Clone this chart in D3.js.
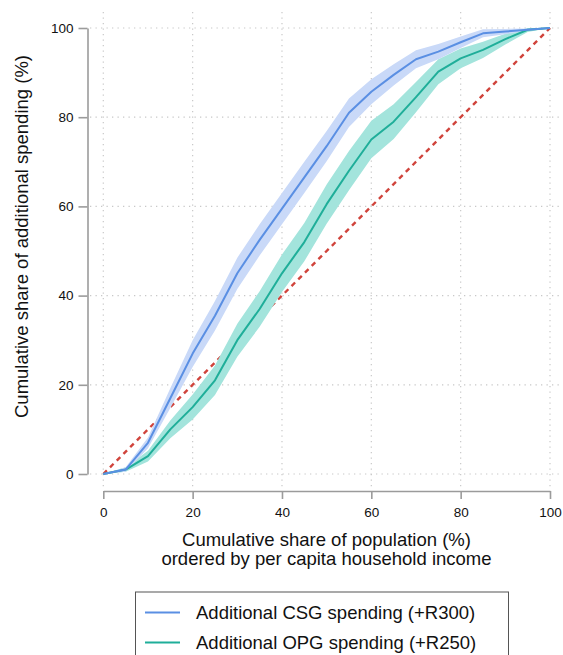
<!DOCTYPE html>
<html>
<head>
<meta charset="utf-8">
<script src="https://cdn.jsdelivr.net/npm/d3@7"></script>
<style>
  html, body { margin: 0; padding: 0; background: #fff; }
  svg { display: block; font-family: "Liberation Sans", Arial, Helvetica, sans-serif; }
</style>
</head>
<body>
<svg id="chart" width="563" height="655"></svg>
<script>
// Cumulative population share (%) ordered by per capita household income
const popShare = [0, 5, 10, 15, 20, 25, 30, 35, 40, 45, 50, 55, 60, 65, 70, 75, 80, 85, 90, 95, 100];

// Concentration curve: additional CSG spending (+R300)
const csgShare = [0, 1, 7, 17, 27, 35.5, 45, 52.5, 59.5, 66.5, 73.5, 81, 85.7, 89.5, 93, 94.7, 96.8, 98.8, 99.2, 99.6, 100];
const csgLower = [0, 0.5, 5.8, 14.8, 24, 32.2, 41.5, 49, 56, 63, 70.1, 77.8, 82.9, 87.1, 91, 93, 95.5, 97.9, 98.6, 99.3, 100];
const csgUpper = [0, 1.5, 8.2, 19.2, 30, 38.8, 48.5, 56, 63, 70, 76.9, 84.2, 88.5, 91.9, 95, 96.4, 98.1, 99.7, 99.8, 99.9, 100];

// Concentration curve: additional OPG spending (+R250)
const opgShare = [0, 1, 4, 10, 15, 21, 30, 37, 45, 52, 60.5, 68, 75, 79, 84.5, 90.2, 93.2, 95.1, 97.5, 99.6, 100];
const opgLower = [0, 0.5, 2.8, 8, 12.2, 17.7, 26.3, 33, 40.8, 47.7, 56.1, 63.6, 70.8, 75.1, 81.1, 87.4, 91, 93.3, 96.3, 99.1, 100];
const opgUpper = [0, 1.5, 5.2, 12, 17.8, 24.3, 33.7, 41, 49.2, 56.3, 64.9, 72.4, 79.2, 82.9, 87.9, 93, 95.4, 96.9, 98.7, 100, 100];

// Line of equality
const equality = [0, 100];

const ticks = [0, 20, 40, 60, 80, 100];

const seriesLabels = ["Additional CSG spending (+R300)", "Additional OPG spending (+R250)"];

const colors = {
  csgLine: "#5a8fe3", csgBand: "#c9d9f8",
  opgLine: "#1fae99", opgBand: "#a3e4dc",
  equality: "#d0433b", axis: "#9b9b9b", grid: "#c8c8c8", text: "#111"
};

const svg = d3.select("#chart");
const x = d3.scaleLinear().domain([0, 100]).range([103.3, 550]);
const y = d3.scaleLinear().domain([0, 100]).range([474, 28]);

// Dotted grid
const grid = svg.append("g");
grid.selectAll("line.v").data(ticks).join("line")
  .attr("x1", d => x(d)).attr("x2", d => x(d))
  .attr("y1", 12).attr("y2", 487)
  .attr("stroke", colors.grid).attr("stroke-width", 1.2)
  .attr("stroke-dasharray", "1.3,4.2");
grid.selectAll("line.h").data(ticks).join("line")
  .attr("y1", d => y(d)).attr("y2", d => y(d))
  .attr("x1", 90).attr("x2", 561)
  .attr("stroke", colors.grid).attr("stroke-width", 1.2)
  .attr("stroke-dasharray", "1.3,4.2");

// Equality diagonal (drawn beneath the confidence bands)
svg.append("line")
  .attr("x1", x(equality[0])).attr("y1", y(equality[0]))
  .attr("x2", x(equality[1])).attr("y2", y(equality[1]))
  .attr("stroke", colors.equality).attr("stroke-width", 2.4)
  .attr("stroke-dasharray", "5,4.5");

const area = (lo, hi) => d3.area()
  .x((d, i) => x(popShare[i]))
  .y0((d, i) => y(lo[i]))
  .y1((d, i) => y(hi[i]))(popShare);
const line = vals => d3.line()
  .x((d, i) => x(popShare[i]))
  .y((d, i) => y(vals[i]))(popShare);

svg.append("path").attr("d", area(opgLower, opgUpper)).attr("fill", colors.opgBand);
svg.append("path").attr("d", area(csgLower, csgUpper)).attr("fill", colors.csgBand);
svg.append("path").attr("d", line(opgShare)).attr("fill", "none")
  .attr("stroke", colors.opgLine).attr("stroke-width", 2).attr("stroke-linejoin", "round");
svg.append("path").attr("d", line(csgShare)).attr("fill", "none")
  .attr("stroke", colors.csgLine).attr("stroke-width", 2).attr("stroke-linejoin", "round");

// Axes
const yAxis = svg.append("g").attr("transform", "translate(87.5,0)")
  .call(d3.axisLeft(y).tickValues(ticks).tickSize(9).tickSizeOuter(0).tickPadding(5));
const xAxis = svg.append("g").attr("transform", "translate(0,491)")
  .call(d3.axisBottom(x).tickValues(ticks).tickSize(8).tickSizeOuter(0).tickPadding(8));
[yAxis, xAxis].forEach(a => {
  a.select(".domain").attr("stroke", colors.axis).attr("stroke-width", 1.6);
  a.selectAll(".tick line").attr("stroke", colors.axis).attr("stroke-width", 1.6);
  a.selectAll(".tick text").attr("fill", colors.text)
    .style("font-size", "13.5px").style("font-family", "'Liberation Sans', Arial, sans-serif");
});

// Axis titles
svg.append("text")
  .attr("transform", "translate(28,236.5) rotate(-90)")
  .attr("text-anchor", "middle").attr("fill", colors.text)
  .style("font-size", "18.5px")
  .text("Cumulative share of additional spending (%)");
const xt = svg.append("text").attr("text-anchor", "middle").attr("fill", colors.text)
  .style("font-size", "18.5px");
xt.append("tspan").attr("x", 326.5).attr("y", 546).text("Cumulative share of population (%)");
xt.append("tspan").attr("x", 326.5).attr("y", 565).text("ordered by per capita household income");

// Legend
const legend = svg.append("g");
legend.append("rect")
  .attr("x", 135.5).attr("y", 592).attr("width", 373).attr("height", 80)
  .attr("fill", "#fff").attr("stroke", "#555").attr("stroke-width", 1);
const legendItems = [
  { label: seriesLabels[0], color: colors.csgLine, cy: 612.5 },
  { label: seriesLabels[1], color: colors.opgLine, cy: 642.5 }
];
legendItems.forEach(it => {
  legend.append("line").attr("x1", 145).attr("x2", 180).attr("y1", it.cy).attr("y2", it.cy)
    .attr("stroke", it.color).attr("stroke-width", 2);
  legend.append("text").attr("x", 196).attr("y", it.cy + 6.5).attr("fill", colors.text)
    .style("font-size", "18.5px").text(it.label);
});
</script>
</body>
</html>
